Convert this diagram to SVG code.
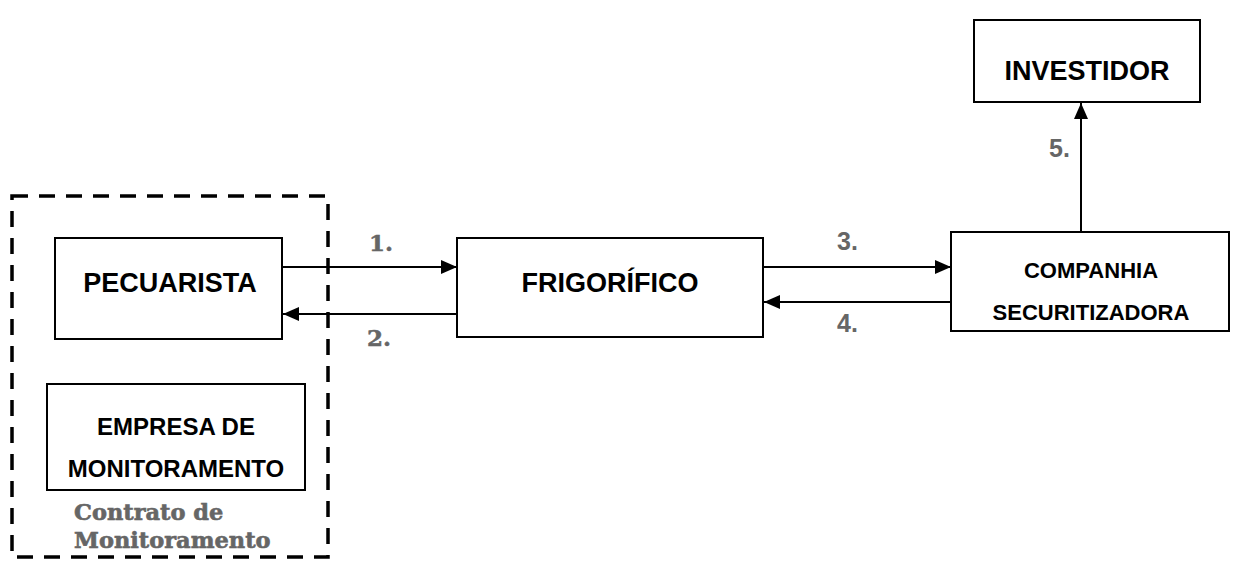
<svg xmlns="http://www.w3.org/2000/svg" width="1236" height="563" viewBox="0 0 1236 563">
<defs>
<style>
.box{fill:#fff;stroke:#000;stroke-width:2}
.t{font-family:"Liberation Sans",Arial,sans-serif;font-weight:bold;fill:#000;text-anchor:middle}
.num{font-family:"Liberation Sans",Arial,sans-serif;font-weight:bold;fill:#666;font-size:25px}
.ser{font-family:"DejaVu Serif","Liberation Serif",serif;font-weight:bold;fill:#666}
.ln{stroke:#000;stroke-width:2;fill:none}
</style>
<marker id="ah" viewBox="0 0 16 14" refX="16" refY="7" markerWidth="16" markerHeight="14" markerUnits="userSpaceOnUse" orient="auto">
<path d="M0,0 L16,7 L0,14 Z" fill="#000"/>
</marker>
</defs>
<rect width="1236" height="563" fill="#fff"/>
<g id="contrato">
<rect x="12" y="196" width="316" height="361" fill="none" stroke="#000" stroke-width="3.5" stroke-dasharray="16 11"/>
<text class="ser" x="74" y="520" font-size="22.5" stroke="#666" stroke-width="0.6">Contrato de</text>
<text class="ser" x="74" y="548" font-size="22.5" stroke="#666" stroke-width="0.6">Monitoramento</text>
</g>
<g id="pecuarista">
<rect class="box" x="55" y="238" width="227" height="101"/>
<text class="t" x="170" y="292" font-size="27">PECUARISTA</text>
</g>
<g id="empresa">
<rect class="box" x="47" y="384" width="258" height="106"/>
<text class="t" x="176" y="435" font-size="24">EMPRESA DE</text>
<text class="t" x="176" y="477" font-size="24">MONITORAMENTO</text>
</g>
<g id="frigorifico">
<rect class="box" x="457" y="238" width="306" height="99"/>
<text class="t" x="610" y="292" font-size="27">FRIGORÍFICO</text>
</g>
<g id="companhia">
<rect class="box" x="951" y="232" width="278" height="99"/>
<text class="t" x="1091" y="278" font-size="22">COMPANHIA</text>
<text class="t" x="1091" y="320" font-size="22">SECURITIZADORA</text>
</g>
<g id="investidor">
<rect class="box" x="974" y="20" width="226" height="82"/>
<text class="t" x="1087" y="80" font-size="27">INVESTIDOR</text>
</g>
<g id="connectors">
<line class="ln" x1="282" y1="267" x2="457" y2="267" marker-end="url(#ah)"/>
<line class="ln" x1="457" y1="314" x2="283" y2="314" marker-end="url(#ah)"/>
<line class="ln" x1="763" y1="267" x2="951" y2="267" marker-end="url(#ah)"/>
<line class="ln" x1="951" y1="302" x2="764" y2="302" marker-end="url(#ah)"/>
<line class="ln" x1="1081" y1="232" x2="1081" y2="103" marker-end="url(#ah)"/>
<text class="ser" x="369" y="251" font-size="23" stroke="#666" stroke-width="0.5">1.</text>
<text class="ser" x="367" y="346" font-size="23" stroke="#666" stroke-width="0.5">2.</text>
<text class="num" x="837" y="250">3.</text>
<text class="num" x="837" y="332">4.</text>
<text class="num" x="1049" y="157">5.</text>
</g>
</svg>
